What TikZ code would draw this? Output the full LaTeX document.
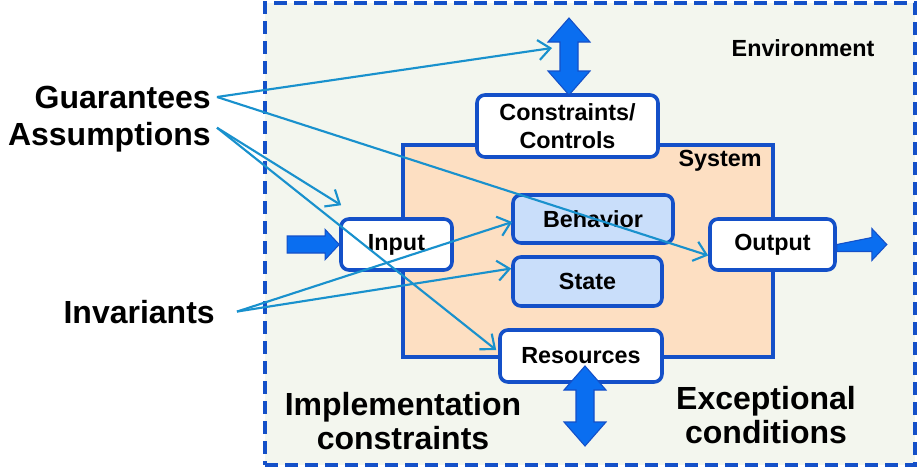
\documentclass[tikz,border=0pt]{standalone}
\usepackage{fontspec}
\setmainfont{Liberation Sans}
\usetikzlibrary{arrows.meta,calc}
\usepackage{xcolor}
\definecolor{diagblue}{RGB}{20,80,200}
\definecolor{envfill}{RGB}{243,246,238}
\definecolor{sysfill}{RGB}{253,223,194}
\definecolor{statefill}{RGB}{201,222,250}
\definecolor{calloutblue}{RGB}{25,145,205}
\definecolor{arrowfill}{RGB}{10,110,240}

\begin{document}
\begin{tikzpicture}
[x=0.75pt,y=-0.75pt,
diag envbox/.style={rectangle,draw=diagblue,fill=envfill,dash pattern=on 9.5pt off 5.5pt,line width=2.6pt,minimum width=487.5pt,minimum height=346.5pt,inner sep=0pt},
diag sysbox/.style={rectangle,draw=diagblue,fill=sysfill,line width=2.7pt,minimum width=277.5pt,minimum height=159pt,inner sep=0pt},
diag whitebox/.style={rectangle,rounded corners=6pt,draw=diagblue,fill=white,line width=2.7pt,font=\fontsize{17.5}{21}\selectfont\bfseries,align=center,inner sep=0pt},
diag bluebox/.style={diag whitebox,fill=statefill},
diag title/.style={font=\fontsize{17.5}{21}\selectfont\bfseries,inner sep=0pt},
diag bigtext/.style={font=\fontsize{24}{25.5}\selectfont\bfseries,align=center,inner sep=0pt},
diag blockarrow/.style={fill=arrowfill,draw=diagblue,line width=0.8pt,line join=miter},
diag callout/.style={draw=calloutblue,line width=1.6pt,-{Straight Barb[length=9pt,width=15pt]}}
]
\useasboundingbox (0,0) rectangle (918,469);

% environment and system
\node[diag envbox] (env) at (590,234) {};
\node[diag sysbox] (sys) at (588,251) {};
\node[diag title] (envtitle) at (803,48) {Environment};
\node[diag title] (systitle) at (720,161) {System};

% boxes
\node[diag whitebox, minimum width=135.75pt, minimum height=46.5pt] (ctrl) at (567.5,126) {Constraints/\\Controls};
\node[diag whitebox, minimum width=83.25pt, minimum height=38.25pt] (input) at (396.5,244.5) {Input};
\node[diag bluebox, minimum width=120pt, minimum height=36pt] (behav) at (593,219) {Behavior};
\node[diag bluebox, minimum width=111.75pt, minimum height=36.75pt] (state) at (587.5,281.5) {State};
\node[diag whitebox, minimum width=93.75pt, minimum height=38.25pt] (output) at (772.5,244.5) {Output};
\node[diag whitebox, minimum width=121.5pt, minimum height=39pt] (res) at (581,356) {Resources};

% block arrows
\coordinate (ctrltop) at (569,18);
\coordinate (restop) at (585,366);
\draw[diag blockarrow] (ctrltop) -- ++(21,24) -- ++(-12,0) -- ++(0,29) -- ++(12,0) -- ++(-21,24)
  -- ++(-21,-24) -- ++(12,0) -- ++(0,-29) -- ++(-12,0) -- cycle;
\draw[diag blockarrow] (restop) -- ++(21,24) -- ++(-12,0) -- ++(0,32) -- ++(12,0) -- ++(-21,24)
  -- ++(-21,-24) -- ++(12,0) -- ++(0,-32) -- ++(-12,0) -- cycle;
\draw[diag blockarrow] (input.west) -- ++(-14,-15) -- ++(0,6.5) -- ++(-38,0) -- ++(0,17)
  -- ++(38,0) -- ++(0,6.5) -- cycle;
\draw[diag blockarrow] (output.east) -- ++(35,-7) -- ++(0,-9) -- ++(15,16) -- ++(-15,16)
  -- ++(0,-9) -- ++(-35,0) -- cycle;

% outside labels
\node[diag bigtext, anchor=base east] (guar) at (211,108) {Guarantees};
\node[diag bigtext, anchor=base east] (assum) at (211,145) {Assumptions};
\node[diag bigtext, anchor=base east] (inv) at (215,323) {Invariants};
\node[diag bigtext] (impl) at (403,421) {Implementation\\constraints};
\node[diag bigtext] (excep) at (766,415) {Exceptional\\conditions};

% callouts
\draw[diag callout] ($(guar.east)+(6,0)$) -- ($(ctrltop)+(-17,30)$);
\draw[diag callout] ($(guar.east)+(6,0)$) -- ($(output.west)+(0,11)$);
\draw[diag callout] ($(assum.east)+(6,-9)$) -- ($(input.north west)+(2,-12)$);
\draw[diag callout] ($(assum.east)+(6,-9)$) -- ($(res.west)+(-2,-6)$);
\draw[diag callout] ($(inv.east)+(22,0)$) -- ($(behav.west)+(1,3)$);
\draw[diag callout] ($(inv.east)+(22,0)$) -- ($(state.west)+(0,-13)$);

\end{tikzpicture}
\end{document}
